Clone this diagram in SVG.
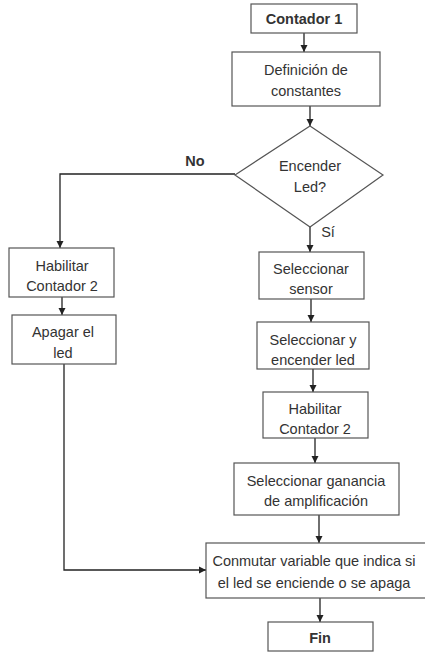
<svg xmlns="http://www.w3.org/2000/svg" width="425" height="652" viewBox="0 0 425 652">
<style>
.box{fill:#fff;stroke:#555;stroke-width:1.2}
.t{font-family:"Liberation Sans",Arial,sans-serif;font-size:14.5px;fill:#333;text-anchor:middle}
.b{font-weight:bold}
.c{fill:none;stroke:#222;stroke-width:1.3}
</style>
<defs>
<marker id="ah" markerWidth="8" markerHeight="8" refX="7" refY="4" orient="auto" markerUnits="userSpaceOnUse">
<path d="M0,0.5 L7,4 L0,7.5 Z" fill="#222"/>
</marker>
</defs>
<rect width="425" height="652" fill="#fff"/>
<g id="connectors">
<line class="c" x1="304" y1="33" x2="304" y2="52" marker-end="url(#ah)"/>
<line class="c" x1="310" y1="106" x2="310" y2="126" marker-end="url(#ah)"/>
<line class="c" x1="310" y1="227" x2="310" y2="252" marker-end="url(#ah)"/>
<line class="c" x1="311" y1="299" x2="311" y2="322" marker-end="url(#ah)"/>
<line class="c" x1="313" y1="369" x2="313" y2="392" marker-end="url(#ah)"/>
<line class="c" x1="315" y1="438" x2="315" y2="463" marker-end="url(#ah)"/>
<line class="c" x1="319" y1="515" x2="319" y2="543" marker-end="url(#ah)"/>
<line class="c" x1="320" y1="598" x2="320" y2="622" marker-end="url(#ah)"/>
<polyline class="c" points="235,174 60,174 60,248" marker-end="url(#ah)"/>
<line class="c" x1="62" y1="297" x2="62" y2="315" marker-end="url(#ah)"/>
<polyline class="c" points="64,364 64,570 206,570" marker-end="url(#ah)"/>
<text class="t b" x="195" y="166">No</text>
<text class="t" x="328" y="237">Sí</text>
</g>
<g id="contador1">
<rect class="box" x="251" y="4" width="106" height="29"/>
<text class="t b" x="304" y="24">Contador 1</text>
</g>
<g id="definicion">
<rect class="box" x="232" y="52" width="148" height="54"/>
<text class="t" x="306" y="75">Definición de</text>
<text class="t" x="306" y="96">constantes</text>
</g>
<g id="encender">
<polygon class="box" points="310,126 383,175 310,227 235,175"/>
<text class="t" x="310" y="171">Encender</text>
<text class="t" x="310" y="192">Led?</text>
</g>
<g id="sensor">
<rect class="box" x="259" y="252" width="105" height="47"/>
<text class="t" x="311" y="274">Seleccionar</text>
<text class="t" x="311" y="294">sensor</text>
</g>
<g id="encenderled">
<rect class="box" x="257" y="322" width="112" height="47"/>
<text class="t" x="313" y="345">Seleccionar y</text>
<text class="t" x="313" y="365">encender led</text>
</g>
<g id="habilitar2r">
<rect class="box" x="263" y="392" width="105" height="46"/>
<text class="t" x="315" y="414">Habilitar</text>
<text class="t" x="315" y="434">Contador 2</text>
</g>
<g id="ganancia">
<rect class="box" x="234" y="463" width="165" height="52"/>
<text class="t" x="316" y="486">Seleccionar ganancia</text>
<text class="t" x="316" y="506">de amplificación</text>
</g>
<g id="conmutar">
<rect class="box" x="206" y="543" width="230" height="55"/>
<text class="t" x="314" y="566">Conmutar variable que indica si</text>
<text class="t" x="314" y="588">el led se enciende o se apaga</text>
</g>
<g id="fin">
<rect class="box" x="268" y="622" width="105" height="29"/>
<text class="t b" x="320" y="643">Fin</text>
</g>
<g id="habilitar2l">
<rect class="box" x="9" y="248" width="105" height="49"/>
<text class="t" x="62" y="271">Habilitar</text>
<text class="t" x="62" y="291">Contador 2</text>
</g>
<g id="apagar">
<rect class="box" x="12" y="315" width="104" height="49"/>
<text class="t" x="63" y="337">Apagar el</text>
<text class="t" x="63" y="358">led</text>
</g>
</svg>
